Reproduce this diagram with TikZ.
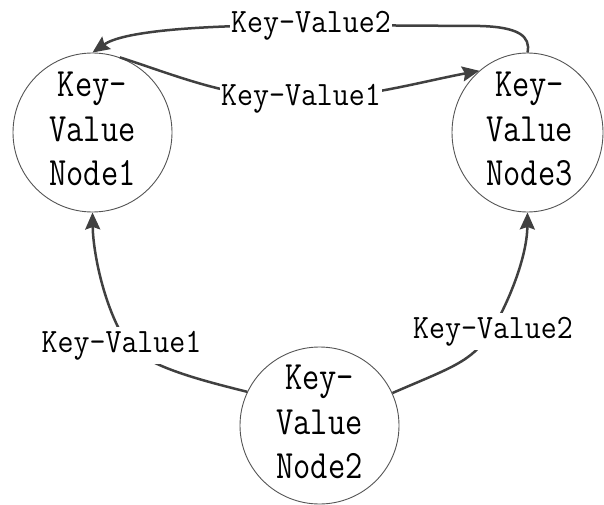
\documentclass[tikz,border=0pt]{standalone}
\usepackage{fontspec}
\usepackage{graphicx}
\usetikzlibrary{arrows.meta,shapes.geometric}
\definecolor{edgecol}{HTML}{404040}
\definecolor{ringcol}{HTML}{555555}
\newcommand{\kvtext}[1]{\scalebox{1}[1.2]{\fontsize{33.5}{37}\selectfont\ttfamily\begin{tabular}{@{}c@{}}Key-\\Value\\#1\end{tabular}}}
\newcommand{\kvlbl}[1]{\scalebox{1}[1.1]{\fontsize{31}{36}\selectfont\ttfamily #1}}
\tikzset{
  kvnode/.style={ellipse, draw=ringcol, line width=0.9pt, inner sep=0pt, fill=white},
  kvtxt/.style={inner sep=0pt, text=black},
  edge/.style={draw=edgecol, line width=2.5pt},
  arr/.style={-{Stealth[length=17pt,width=15pt,inset=2.5pt]}},
  lbl/.style={fill=white, inner xsep=1pt, inner ysep=4pt, anchor=base, text=black}
}
\begin{document}
\begin{tikzpicture}[x=1pt,y=-1pt]
\useasboundingbox (0,0) rectangle (604,505);
% nodes
\node[kvnode, minimum width=159pt, minimum height=159pt, label={[kvtxt]center:\kvtext{Node1}}] (n1) at (92.5,132.5) {};
\node[kvnode, minimum width=151pt, minimum height=159pt, label={[kvtxt,xshift=2pt]center:\kvtext{Node3}}] (n3) at (527.5,132.5) {};
\node[kvnode, minimum width=159pt, minimum height=157pt, label={[kvtxt]center:\kvtext{Node2}}] (n2) at (319.5,425.5) {};
% edges
\draw[edge,arr] (n3.north) .. controls (531,36) and (518,27) .. (480,26) -- (311,25)
  .. controls (190,25) and (122,32) .. (n1.north);
\draw[edge,arr] (n1.70) .. controls (175,75) and (230,99) .. (301,99)
  .. controls (360,99) and (420,82) .. (n3.128);
\draw[edge,arr] (n2.155) .. controls (200,380) and (140,365) .. (125,340)
  .. controls (102.5,302.5) and (93,250) .. (n1.south);
\draw[edge,arr] (n2.24) .. controls (450,368) and (472,362) .. (490,333)
  .. controls (505,310) and (527,260) .. (n3.south);
% labels
\node[lbl] (l2t) at (311,33) {\kvlbl{Key-Value2}};
\node[lbl] (l1t) at (301,106) {\kvlbl{Key-Value1}};
\node[lbl] (l1b) at (121.5,352) {\kvlbl{Key-Value1}};
\node[lbl] (l2b) at (493,338) {\kvlbl{Key-Value2}};
\end{tikzpicture}
\end{document}
